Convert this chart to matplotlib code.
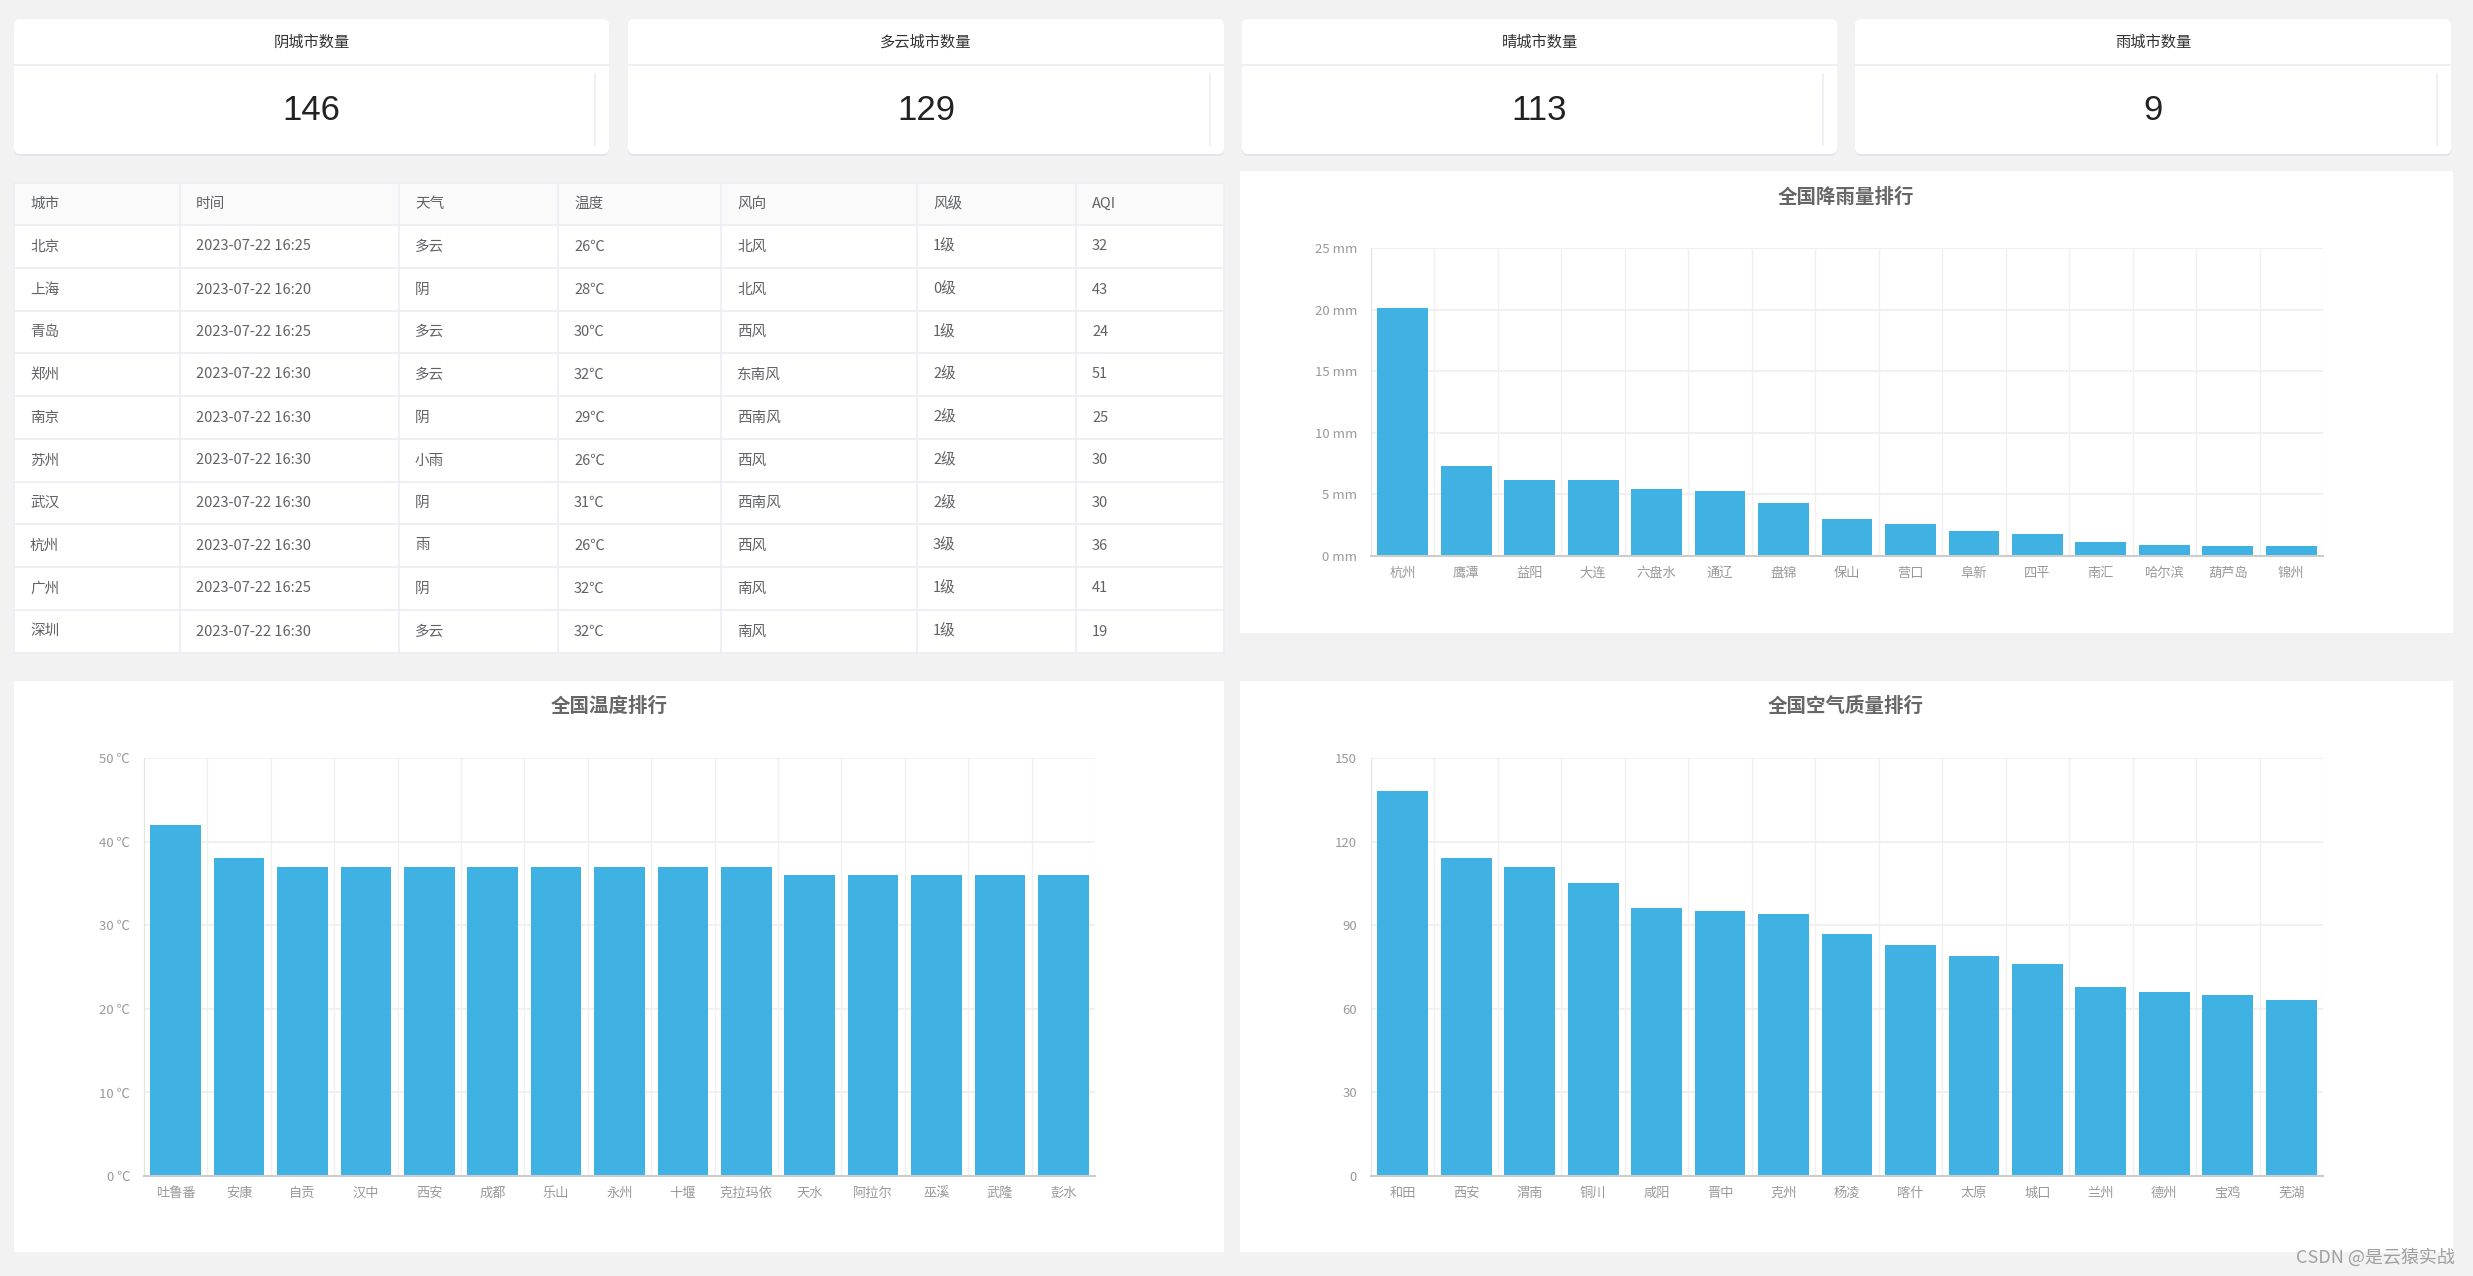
import matplotlib.pyplot as plt
from matplotlib.patches import Rectangle, FancyBboxPatch

plt.rcParams['font.family'] = ['Noto Sans CJK SC', 'DejaVu Sans']

# card data
card_titles = ['阴城市数量', '多云城市数量', '晴城市数量', '雨城市数量']
card_values = [146, 129, 113, 9]

# table data
table_cols = ['城市', '时间', '天气', '温度', '风向', '风级', 'AQI']
t_city = ['北京', '上海', '青岛', '郑州', '南京', '苏州', '武汉', '杭州', '广州', '深圳']
t_time = ['2023-07-22 16:25', '2023-07-22 16:20', '2023-07-22 16:25', '2023-07-22 16:30',
          '2023-07-22 16:30', '2023-07-22 16:30', '2023-07-22 16:30', '2023-07-22 16:30',
          '2023-07-22 16:25', '2023-07-22 16:30']
t_weather = ['多云', '阴', '多云', '多云', '阴', '小雨', '阴', '雨', '阴', '多云']
t_temp = ['26℃', '28℃', '30℃', '32℃', '29℃', '26℃', '31℃', '26℃', '32℃', '32℃']
t_wind = ['北风', '北风', '西风', '东南风', '西南风', '西风', '西南风', '西风', '南风', '南风']
t_level = ['1级', '0级', '1级', '2级', '2级', '2级', '2级', '3级', '1级', '1级']
t_aqi = ['32', '43', '24', '51', '25', '30', '30', '36', '41', '19']

# chart data
rain_city = ['杭州', '鹰潭', '益阳', '大连', '六盘水', '通辽', '盘锦', '保山', '营口', '阜新',
             '四平', '南汇', '哈尔滨', '葫芦岛', '锦州']
rain_val = [20.1, 7.3, 6.2, 6.2, 5.4, 5.3, 4.3, 3.0, 2.6, 2.0, 1.8, 1.1, 0.9, 0.8, 0.8]

temp_city = ['吐鲁番', '安康', '自贡', '汉中', '西安', '成都', '乐山', '永州', '十堰', '克拉玛依',
             '天水', '阿拉尔', '巫溪', '武隆', '彭水']
temp_val = [42, 38, 37, 37, 37, 37, 37, 37, 37, 37, 36, 36, 36, 36, 36]

aqi_city = ['和田', '西安', '渭南', '铜川', '咸阳', '晋中', '克州', '杨凌', '喀什', '太原',
            '城口', '兰州', '德州', '宝鸡', '芜湖']
aqi_val = [138, 114, 111, 105, 96, 95, 94, 87, 83, 79, 76, 68, 66, 65, 63]

W, H = 2473, 1276
fig = plt.figure(figsize=(W / 100, H / 100), dpi=100, facecolor='#f2f2f2')
bg = fig.add_axes([0, 0, 1, 1])
bg.set_xlim(0, W)
bg.set_ylim(H, 0)
bg.axis('off')

# cards
card_x = [(14, 609), (628, 1224), (1242, 1837), (1855, 2451)]
for (x0, x1), t, v in zip(card_x, card_titles, card_values):
    bg.add_patch(FancyBboxPatch((x0, 21), x1 - x0, 135, boxstyle='round,pad=0,rounding_size=6',
                                fc='#e4e4ee', ec='none'))
    bg.add_patch(FancyBboxPatch((x0, 19), x1 - x0, 135, boxstyle='round,pad=0,rounding_size=6',
                                fc='white', ec='none'))
    bg.plot([x0, x1], [65, 65], color='#ebeef5', lw=1.2)
    bg.plot([x1 - 14, x1 - 14], [74, 145], color='#ebeef5', lw=1.2)
    bg.text((x0 + x1) / 2, 42, t, ha='center', va='center', fontsize=11, color='#303133')
    bg.text((x0 + x1) / 2, 110, str(v), ha='center', va='center', fontsize=25,
            color='#222222', family='Liberation Sans')

# table
col_x = [14, 180, 399, 558, 721, 917, 1076, 1224]
row_y = [183, 225, 268, 311, 353, 396, 439, 482, 524, 567, 610, 653]
bg.add_patch(Rectangle((14, 183), 1210, 470, fc='white', ec='none'))
bg.add_patch(Rectangle((14, 183), 1210, 42, fc='#fafafa', ec='none'))
for y in row_y:
    bg.plot([14, 1224], [y, y], color='#ebeef5', lw=1.2)
for x in col_x:
    bg.plot([x, x], [183, 653], color='#ebeef5', lw=1.2)
rows = list(zip(t_city, t_time, t_weather, t_temp, t_wind, t_level, t_aqi))
for j, c in enumerate(table_cols):
    bg.text(col_x[j] + 16, (row_y[0] + row_y[1]) / 2, c, ha='left', va='center',
            fontsize=10.5, color='#606266')
for i, r in enumerate(rows):
    yc = (row_y[i + 1] + row_y[i + 2]) / 2
    for j, c in enumerate(r):
        bg.text(col_x[j] + 16, yc, c, ha='left', va='center', fontsize=10.5, color='#606266')

# chart panels
panels = [(1240, 171, 2453, 633), (14, 681, 1224, 1252), (1240, 681, 2453, 1252)]
for x0, y0, x1, y1 in panels:
    bg.add_patch(Rectangle((x0, y0), x1 - x0, y1 - y0, fc='white', ec='none'))


def bar_chart(box, title, title_xy, cats, vals, ymax, step, fmt):
    l, t, r, b = box
    ax = fig.add_axes([l / W, 1 - b / H, (r - l) / W, (b - t) / H])
    ax.set_facecolor('none')
    x = range(len(cats))
    ax.bar(x, vals, width=0.8, color='#3fb1e3', zorder=3)
    ax.set_xlim(-0.5, len(cats) - 0.5)
    ax.set_ylim(0, ymax)
    ticks = list(range(0, ymax + 1, step))
    ax.set_yticks(ticks)
    ax.set_yticklabels([fmt.format(v) for v in ticks])
    ax.set_xticks(list(x))
    ax.set_xticklabels(cats)
    for v in ticks[1:]:
        ax.axhline(v, color='#eeeeee', lw=1.2, zorder=1)
    for i in range(len(cats)):
        ax.axvline(i + 0.5, color='#f0f0f0', lw=1, zorder=1)
    for s in ['top', 'right']:
        ax.spines[s].set_visible(False)
    ax.spines['left'].set_color('#e3e3e3')
    ax.spines['bottom'].set_color('#cccccc')
    ax.spines['bottom'].set_linewidth(1.5)
    ax.spines['bottom'].set_zorder(4)
    ax.tick_params(axis='both', length=0, labelsize=9.5, labelcolor='#999999')
    ax.tick_params(axis='y', pad=10)
    ax.tick_params(axis='x', pad=8)
    bg.text(title_xy[0], title_xy[1], title, ha='center', va='center', fontsize=14,
            fontweight='bold', color='#666666')
    return ax


bar_chart((1371, 248, 2323, 556), '全国降雨量排行', (1846, 197), rain_city, rain_val, 25, 5, '{} mm')
bar_chart((144, 758, 1095, 1176), '全国温度排行', (609, 706), temp_city, temp_val, 50, 10, '{} ℃')
bar_chart((1371, 758, 2323, 1176), '全国空气质量排行', (1846, 706), aqi_city, aqi_val, 150, 30, '{}')

bg.text(2455, 1257, 'CSDN @是云猿实战', ha='right', va='center', fontsize=13, color='#a0a0a0')

fig.savefig('out.png', dpi=100, facecolor=fig.get_facecolor())
